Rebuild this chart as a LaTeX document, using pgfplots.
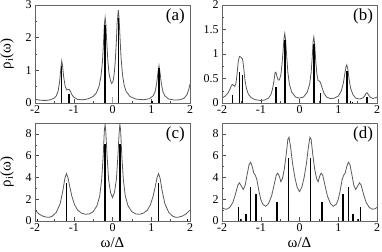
\documentclass[border=0pt]{standalone}
\usepackage{pgfplots}
\pgfplotsset{compat=1.18}
\usepackage{fontspec}
\setmainfont{Liberation Serif}
\pgfplotsset{
  panel/.style={scale only axis, width=155bp, height=98bp,
    xmin=-2, xmax=2, xtick={-2,-1,0,1,2}, minor x tick num=1,
    tick pos=left, axis line style={black!60},
    major tick length=4bp, minor tick length=2.2bp,
    every tick/.style={black!70},
    tick label style={font=\fontsize{12}{14}\selectfont},
    xticklabel style={yshift=1bp},
    /pgf/number format/assume math mode=true,
    label style={font=\fontsize{15}{17}\selectfont}},
  curve/.style={black!65, line width=0.8pt, mark=none},
  bars/.style={ycomb, black, line width=1.5pt, mark=none},
}
\tikzset{tag/.style={font=\fontsize{17}{19}\selectfont, anchor=center}}
\begin{document}
\begin{tikzpicture}
\path[use as bounding box] (-35bp,-31bp) rectangle (347bp,221bp);
% (a)
\begin{axis}[panel, at={(0bp,118bp)}, ymin=0, ymax=3, ytick={0,1,2,3}, minor y tick num=1,
  ylabel={ρ\textsubscript{i}(ω)}, ylabel style={at={(axis description cs:-0.18,0.5)}, anchor=center}]
\addplot[curve] coordinates {
(-2.00,0.12) (-1.90,0.09) (-1.80,0.08) (-1.70,0.08) (-1.60,0.10) (-1.50,0.15) (-1.45,0.22)
(-1.40,0.38) (-1.36,0.70) (-1.33,1.10) (-1.31,1.29) (-1.29,1.15) (-1.26,0.80) (-1.22,0.50)
(-1.18,0.40) (-1.15,0.41) (-1.12,0.42) (-1.09,0.37) (-1.05,0.26) (-1.00,0.18) (-0.90,0.11)
(-0.80,0.10) (-0.70,0.11) (-0.60,0.14) (-0.50,0.20) (-0.42,0.30) (-0.35,0.50) (-0.30,0.80)
(-0.26,1.25) (-0.23,1.90) (-0.21,2.40) (-0.19,2.62) (-0.17,2.40) (-0.15,1.90) (-0.12,1.30)
(-0.09,0.90) (-0.05,0.68) (-0.02,0.60) (0.01,0.65) (0.04,0.85) (0.07,1.25) (0.10,1.90)
(0.12,2.45) (0.15,2.85) (0.17,2.60) (0.19,2.10) (0.22,1.40) (0.26,0.85) (0.30,0.55)
(0.35,0.36) (0.45,0.20) (0.60,0.12) (0.80,0.10) (0.95,0.13) (1.05,0.22) (1.10,0.35)
(1.14,0.60) (1.17,0.90) (1.20,1.14) (1.23,0.90) (1.26,0.60) (1.30,0.35) (1.35,0.22)
(1.45,0.12) (1.60,0.09) (1.75,0.10) (1.85,0.15) (1.92,0.25) (1.97,0.42) (2.00,0.58)};
\addplot[bars] coordinates {(-1.31,1.13) (-1.12,0.27) (-0.19,2.39) (0.15,2.59) (1.20,1.08) (1.02,0.05)};
\addplot[ycomb, black!35, line width=1pt, mark=none] coordinates {(0.0,0.18)};
\node[tag] at (rel axis cs:0.905,0.885) {(a)};
\end{axis}
% (b)
\begin{axis}[panel, at={(187bp,118bp)}, ymin=0, ymax=2, ytick={0,0.5,1,1.5,2}, minor y tick num=1]
\addplot[curve] coordinates {
(-2.00,0.10) (-1.92,0.14) (-1.85,0.20) (-1.80,0.27) (-1.76,0.35) (-1.73,0.38) (-1.70,0.36)
(-1.67,0.34) (-1.64,0.40) (-1.61,0.60) (-1.58,0.85) (-1.55,0.95) (-1.52,0.94) (-1.49,0.92)
(-1.47,0.90) (-1.44,0.72) (-1.41,0.48) (-1.37,0.30) (-1.32,0.18) (-1.25,0.11) (-1.15,0.07)
(-1.00,0.05) (-0.90,0.06) (-0.80,0.10) (-0.74,0.17) (-0.70,0.27) (-0.66,0.45) (-0.63,0.62)
(-0.61,0.63) (-0.58,0.54) (-0.55,0.47) (-0.52,0.47) (-0.48,0.58) (-0.45,0.80) (-0.42,1.10)
(-0.40,1.32) (-0.38,1.42) (-0.36,1.30) (-0.33,0.95) (-0.30,0.62) (-0.26,0.38) (-0.20,0.22)
(-0.10,0.12) (0.00,0.10) (0.10,0.12) (0.20,0.22) (0.26,0.38) (0.30,0.62) (0.33,0.95)
(0.35,1.25) (0.37,1.35) (0.39,1.22) (0.42,0.85) (0.45,0.58) (0.48,0.46) (0.51,0.45)
(0.54,0.42) (0.58,0.32) (0.63,0.20) (0.70,0.12) (0.80,0.09) (0.90,0.10) (1.00,0.14)
(1.08,0.25) (1.13,0.40) (1.17,0.60) (1.20,0.74) (1.22,0.78) (1.25,0.68) (1.28,0.48)
(1.32,0.30) (1.38,0.17) (1.45,0.10) (1.55,0.08) (1.63,0.10) (1.68,0.14) (1.72,0.20)
(1.74,0.21) (1.77,0.18) (1.82,0.12) (1.90,0.09) (2.00,0.12)};
\addplot[bars] coordinates {(-1.73,0.16) (-1.55,0.64) (-1.47,0.57) (-0.61,0.33) (-0.38,1.29)
(0.37,1.21) (0.54,0.20) (1.22,0.65) (1.32,0.04) (1.37,0.03) (1.74,0.12)};
\node[tag] at (rel axis cs:0.91,0.885) {(b)};
\end{axis}
% (c)
\begin{axis}[panel, at={(0bp,0bp)}, ymin=0, ymax=9, ytick={0,2,4,6,8}, minor y tick num=1,
  ylabel={ρ\textsubscript{i}(ω)}, ylabel style={at={(axis description cs:-0.18,0.5)}, anchor=center},
  xlabel={ω/Δ}, xlabel style={at={(axis description cs:0.5,-0.225)}, anchor=center}]
\addplot[curve] coordinates {
(-2.00,1.00) (-1.90,0.65) (-1.80,0.45) (-1.70,0.35) (-1.62,0.35) (-1.55,0.45) (-1.45,0.80)
(-1.35,1.60) (-1.28,2.80) (-1.23,3.90) (-1.19,4.35) (-1.15,4.00) (-1.10,3.10) (-1.05,2.30)
(-0.98,1.50) (-0.90,1.00) (-0.80,0.72) (-0.70,0.62) (-0.60,0.65) (-0.50,0.85) (-0.40,1.40)
(-0.33,2.30) (-0.28,3.80) (-0.24,6.00) (-0.21,8.30) (-0.19,8.90) (-0.17,8.00) (-0.14,6.00)
(-0.10,3.80) (-0.05,2.60) (0.00,2.15)
(0.05,2.60) (0.10,3.80) (0.14,6.00) (0.17,8.00) (0.19,8.90) (0.21,8.30) (0.24,6.00)
(0.28,3.80) (0.33,2.30) (0.40,1.40) (0.50,0.85) (0.60,0.65) (0.70,0.62) (0.80,0.72)
(0.90,1.00) (0.98,1.50) (1.05,2.30) (1.10,3.10) (1.15,4.00) (1.19,4.35) (1.23,3.90)
(1.28,2.80) (1.35,1.60) (1.45,0.80) (1.55,0.45) (1.62,0.35) (1.70,0.35) (1.80,0.45)
(1.90,0.65) (2.00,1.00)};
\addplot[bars] coordinates {(-1.93,0.2) (-1.19,3.45) (-0.19,7.07) (0.19,7.07) (1.19,3.45) (1.93,0.2)};
\node[tag] at (rel axis cs:0.905,0.885) {(c)};
\end{axis}
% (d)
\begin{axis}[panel, at={(187bp,0bp)}, ymin=0, ymax=9, ytick={0,2,4,6,8}, minor y tick num=1,
  xlabel={ω/Δ}, xlabel style={at={(axis description cs:0.5,-0.225)}, anchor=center}]
\addplot[curve] coordinates {
(-2.00,1.25) (-1.95,1.12) (-1.88,1.08) (-1.80,1.25) (-1.72,1.70) (-1.65,2.50) (-1.59,3.30)
(-1.55,3.50) (-1.50,3.20) (-1.45,2.90) (-1.40,3.30) (-1.35,4.30) (-1.30,5.20) (-1.26,5.40)
(-1.22,5.00) (-1.18,4.40) (-1.14,4.20) (-1.10,3.80) (-1.05,2.80) (-1.00,2.00) (-0.95,1.55)
(-0.87,1.35) (-0.80,1.60) (-0.72,2.30) (-0.65,3.40) (-0.60,4.20) (-0.56,4.40) (-0.52,4.10)
(-0.48,3.60) (-0.44,3.90) (-0.39,4.80) (-0.34,6.20) (-0.30,7.50) (-0.27,7.70) (-0.23,6.80)
(-0.18,5.30) (-0.12,4.00) (-0.06,3.10) (0.00,2.70)
(0.06,3.10) (0.12,4.00) (0.18,5.30) (0.23,6.80) (0.27,7.70) (0.30,7.50) (0.34,6.20)
(0.39,4.80) (0.44,3.90) (0.48,3.60) (0.52,4.10) (0.56,4.40) (0.60,4.20) (0.65,3.40)
(0.72,2.30) (0.80,1.60) (0.87,1.35) (0.95,1.55) (1.00,2.00) (1.05,2.80) (1.10,3.80)
(1.14,4.20) (1.18,4.40) (1.22,5.00) (1.26,5.40) (1.30,5.20) (1.35,4.30) (1.40,3.30)
(1.45,2.90) (1.50,3.20) (1.55,3.50) (1.59,3.30) (1.65,2.50) (1.72,1.70) (1.80,1.25)
(1.88,1.08) (1.95,1.12) (2.00,1.25)};
\addplot[bars] coordinates {(-1.57,1.24) (-1.52,0.18) (-1.38,0.60) (-1.26,3.08) (-1.12,2.45)
(-0.58,1.73) (-0.28,5.75) (0.28,5.75) (0.58,1.73) (1.12,2.45) (1.26,3.08) (1.38,0.60)
(1.52,0.18) (1.57,1.24)};
\node[tag] at (rel axis cs:0.91,0.885) {(d)};
\end{axis}
\end{tikzpicture}
\end{document}
